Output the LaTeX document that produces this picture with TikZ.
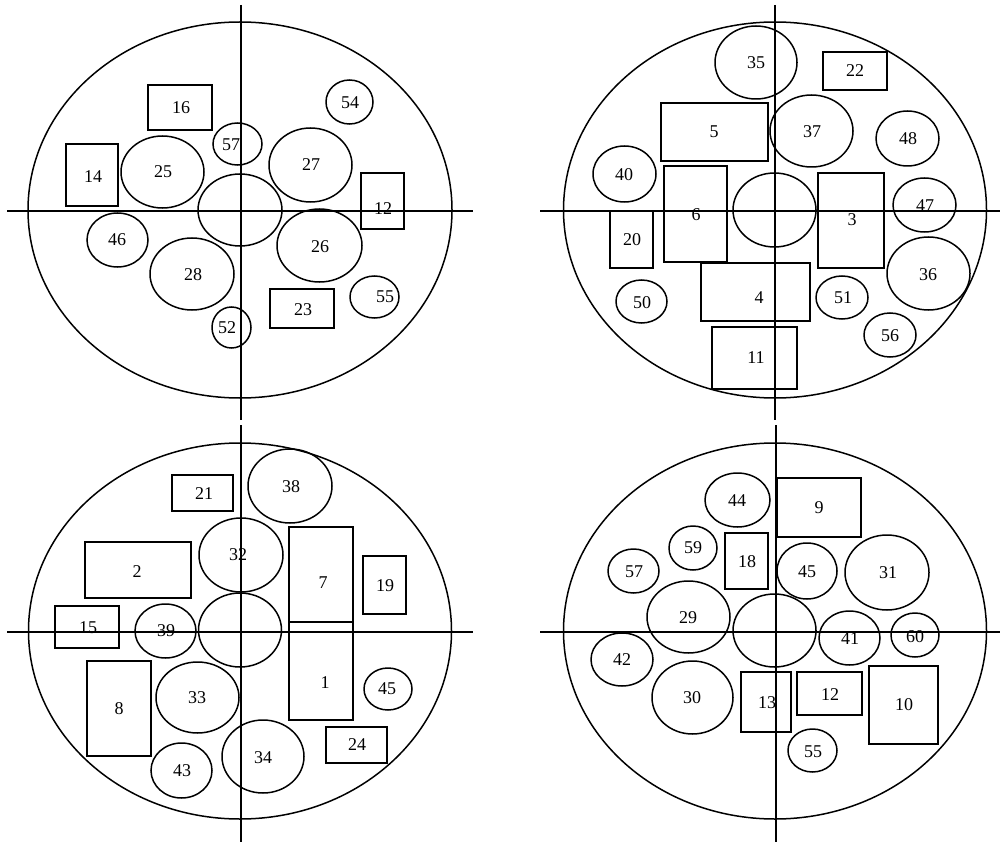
\documentclass[tikz,border=0pt]{standalone}
\usepackage{fontspec}
\setmainfont{Liberation Serif}
\usetikzlibrary{shapes.geometric}
\tikzset{
  ln/.style={line width=1.5pt},
  elps/.style={draw, ellipse, line width=1.5pt, inner sep=0pt, outer sep=0pt},
  bxs/.style={draw, rectangle, line width=1.5pt, inner sep=0pt, outer sep=0pt},
  lbl/.style={inner sep=0pt, font=\fontsize{18}{20}\selectfont}
}
% name, cx, cy, width, height, label, lx, ly
\newcommand\elp[8]{\node[elps, minimum width=#4pt, minimum height=#5pt] (#1) at (#2,#3) {};
  \node[lbl] (#1t) at (#7,#8) {#6};}
% name, x1, y1, x2, y2, label, lx, ly
\newcommand\bxr[8]{\node[bxs, minimum width={(#4-#2)*1pt}, minimum height={(#5-#3)*1pt}] (#1) at ({(#2+#4)/2},{(#3+#5)/2}) {};
  \node[lbl] (#1t) at (#7,#8) {#6};}
\begin{document}
\begin{tikzpicture}[x=1pt,y=-1pt]
\useasboundingbox (0,0) rectangle (1000,842);
% ---------- quadrant A (top left)
\draw[ln] (240,210) ellipse [x radius=212pt, y radius=188pt];
\draw[ln] (241,5) -- (241,420);
\draw[ln] (7,211) -- (473,211);
\node[elps, minimum width=84pt, minimum height=72pt] (ac) at (240,210) {};
\bxr{a16}{148}{85}{212}{130}{16}{181}{108}
\elp{a57}{237.5}{144}{49}{42}{57}{231}{145}
\bxr{a14}{66}{144}{118}{206}{14}{93}{177}
\elp{a25}{162.5}{172}{83}{72}{25}{163}{172}
\elp{a46}{117.5}{240}{61}{54}{46}{117}{240}
\elp{a28}{192}{274}{84}{72}{28}{193}{275}
\elp{a52}{231.5}{327.5}{39}{41}{52}{227}{328}
\elp{a54}{349.5}{102}{47}{44}{54}{350}{103}
\elp{a27}{310.5}{165}{83}{74}{27}{311}{165}
\bxr{a12}{361}{173}{404}{229}{12}{383}{209}
\elp{a26}{319.5}{245.5}{85}{73}{26}{320}{247}
\elp{a55}{374.5}{297}{49}{42}{55}{385}{297}
\bxr{a23}{270}{289}{334}{328}{23}{303}{310}
% ---------- quadrant B (top right)
\draw[ln] (775,210) ellipse [x radius=211.5pt, y radius=188pt];
\draw[ln] (775,5) -- (775,420);
\draw[ln] (540,211) -- (1000,211);
\node[elps, minimum width=83pt, minimum height=74pt] (bc) at (774.5,210) {};
\elp{b35}{756}{62.5}{82}{73}{35}{756}{63}
\bxr{b5}{661}{103}{768}{161}{5}{714}{132}
\elp{b40}{624.5}{174}{63}{56}{40}{624}{175}
\bxr{b6}{664}{166}{727}{262}{6}{696}{215}
\bxr{b20}{610}{211}{653}{268}{20}{632}{240}
\elp{b50}{641.5}{301.5}{51}{43}{50}{642}{303}
\bxr{b4}{701}{263}{810}{321}{4}{759}{298}
\bxr{b11}{712}{327}{797}{389}{11}{756}{358}
\bxr{b22}{823}{52}{887}{90}{22}{855}{71}
\elp{b37}{811.5}{131}{83}{72}{37}{812}{132}
\elp{b48}{907.5}{138.5}{63}{55}{48}{908}{139}
\bxr{b3}{818}{173}{884}{268}{3}{852}{220}
\elp{b47}{924.5}{205}{63}{54}{47}{925}{206}
\elp{b36}{928.5}{273.5}{83}{73}{36}{928}{275}
\elp{b51}{842}{297.5}{52}{43}{51}{843}{298}
\elp{b56}{890}{335}{52}{44}{56}{890}{336}
% ---------- quadrant C (bottom left)
\draw[ln] (240,631) ellipse [x radius=211.5pt, y radius=188pt];
\draw[ln] (241,425) -- (241,842);
\draw[ln] (7,632) -- (473,632);
\node[elps, minimum width=83pt, minimum height=74pt] (cc) at (240,630) {};
\bxr{c21}{172}{475}{233}{511}{21}{204}{494}
\bxr{c2}{85}{542}{191}{598}{2}{137}{572}
\elp{c32}{241}{555}{84}{74}{32}{238}{555}
\bxr{c15}{55}{606}{119}{648}{15}{88}{628}
\elp{c39}{165.5}{631}{61}{54}{39}{166}{631}
\bxr{c8}{87}{661}{151}{756}{8}{119}{709}
\elp{c33}{197.5}{697.5}{83}{71}{33}{197}{698}
\elp{c43}{181.5}{770.5}{61}{55}{43}{182}{771}
\elp{c34}{263}{756.5}{82}{73}{34}{263}{758}
\elp{c38}{290}{486}{84}{74}{38}{291}{487}
\bxr{c7}{289}{527}{353}{622}{7}{323}{583}
\bxr{c1}{289}{622}{353}{720}{1}{325}{683}
\bxr{c19}{363}{556}{406}{614}{19}{385}{586}
\elp{c45}{388}{689}{48}{42}{45}{387}{689}
\bxr{c24}{326}{727}{387}{763}{24}{357}{745}
% ---------- quadrant D (bottom right)
\draw[ln] (775,631) ellipse [x radius=211.5pt, y radius=188pt];
\draw[ln] (776,425) -- (776,842);
\draw[ln] (540,632) -- (1000,632);
\node[elps, minimum width=83pt, minimum height=73pt] (dc) at (774.5,630.5) {};
\elp{d44}{737.5}{500}{65}{54}{44}{737}{501}
\elp{d59}{693}{548}{48}{44}{59}{693}{548}
\bxr{d18}{725}{533}{768}{589}{18}{747}{562}
\elp{d57}{633.5}{571}{51}{44}{57}{634}{572}
\elp{d29}{688.5}{617}{83}{72}{29}{688}{618}
\elp{d42}{622}{659.5}{62}{53}{42}{622}{660}
\elp{d30}{692.5}{697.5}{81}{73}{30}{692}{698}
\bxr{d13}{741}{672}{791}{732}{13}{767}{703}
\bxr{d9}{777}{478}{861}{537}{9}{819}{508}
\elp{d45}{807}{571}{60}{56}{45}{807}{572}
\elp{d31}{887}{572.5}{84}{75}{31}{888}{573}
\elp{d41}{849.5}{638}{61}{54}{41}{850}{639}
\elp{d60}{915}{635}{48}{44}{60}{915}{637}
\bxr{d12}{797}{672}{862}{715}{12}{830}{695}
\bxr{d10}{869}{666}{938}{744}{10}{904}{705}
\elp{d55}{812.5}{750.5}{49}{43}{55}{813}{752}
\end{tikzpicture}
\end{document}
